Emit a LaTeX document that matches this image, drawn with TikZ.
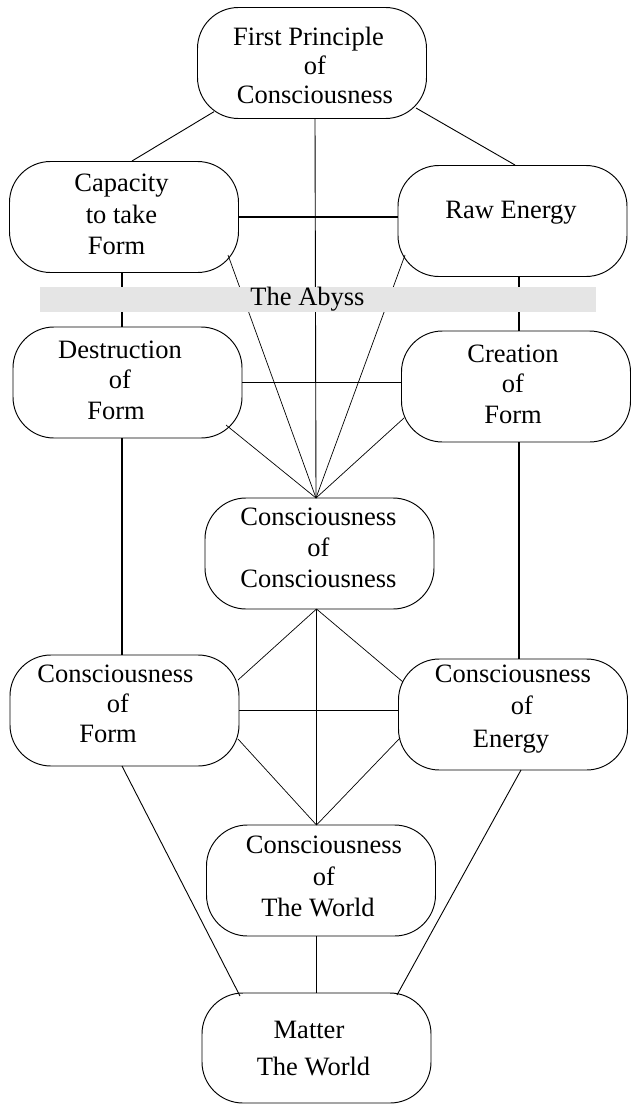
\documentclass[tikz,border=0pt]{standalone}
\usepackage{fontspec}
\setmainfont{Liberation Serif}
\usetikzlibrary{calc}
\begin{document}
\begin{tikzpicture}[x=1pt,y=-1pt,
  box/.style={draw, line width=0.95pt, rounded corners=41pt, minimum width=229pt, minimum height=111pt, inner sep=0pt, outer sep=0pt},
  txt/.style={align=center, inner sep=0pt},
  heavy/.style={line width=1.6pt},
  medium/.style={line width=0.9pt},
  light/.style={line width=0.7pt},
  abyssbar/.style={fill=black!10, draw=none, minimum width=556.5pt, minimum height=25pt, inner sep=0pt}]
\useasboundingbox (0,0) rectangle (632,1105);
% boxes
\node[box] (fp)  at (312,63) {};
\node[box] (cap) at (124,217) {};
\node[box] (raw) at (512.5,221) {};
\node[box] (des) at (127.5,382.5) {};
\node[box] (cre) at (516,386.5) {};
\node[box] (coc) at (319.5,553.5) {};
\node[box] (cof) at (124.5,710.5) {};
\node[box] (coe) at (513,714.5) {};
\node[box] (cow) at (321,880.5) {};
\node[box, minimum height=110pt] (mat) at (316.5,1048) {};
% connectors
\draw[medium] ($(fp.center)+(-98,48.7)$) -- ($(cap.center)+(8,-56)$);
\draw[medium] ($(fp.center)+(104,45)$) -- ($(raw.center)+(2.5,-56)$);
\draw[medium] ($(fp.south)+(3,0)$) -- ($(coc.north)+(-3.5,0)$);
\draw[heavy] (cap.east) -- (cap.east -| raw.west);
\draw[heavy] ($(cap.south)+(-2,0)$) -- ($(des.north)+(-5.5,0)$);
\draw[heavy] ($(raw.south)+(6.5,0)$) -- ($(cre.north)+(3,0)$);
\draw[light] ($(cap.center)+(104,38)$) -- ($(coc.north)+(-3.5,0)$);
\draw[light] ($(raw.center)+(-107.5,34)$) -- ($(coc.north)+(-3.5,0)$);
\draw[heavy] (des.east) -- (des.east -| cre.west);
\draw[light] ($(des.center)+(98.5,42.5)$) -- ($(coc.north)+(-3.5,0)$);
\draw[light] ($(cre.center)+(-112,31.5)$) -- ($(coc.north)+(-3.5,0)$);
\draw[heavy] ($(des.south)+(-5.5,0)$) -- ($(cof.north)+(-2.5,0)$);
\draw[heavy] ($(cre.south)+(3,0)$) -- ($(coe.north)+(6,0)$);
\draw[light] ($(coc.south)+(-3,0)$) -- ($(cof.center)+(113.5,-30.5)$);
\draw[light] ($(coc.south)+(-3,0)$) -- ($(coe.center)+(-110,-32.5)$);
\draw[medium] ($(coc.south)+(-3,0)$) -- ($(cow.north)+(-4.5,0)$);
\draw[heavy] (cof.east) -- (cof.east -| coe.west);
\draw[light] ($(cof.center)+(113.5,28.5)$) -- ($(cow.north)+(-4.5,0)$);
\draw[light] ($(coe.center)+(-113,23.5)$) -- ($(cow.north)+(-4.5,0)$);
\draw[medium] ($(cof.south)+(-2.5,0)$) -- ($(mat.center)+(-76.5,-52)$);
\draw[medium] ($(coe.south)+(8,0)$) -- ($(mat.center)+(80.5,-53)$);
\draw[medium] ($(cow.south)+(-4.5,0)$) -- ($(mat.north)+(0,0)$);
% the abyss
\node[abyssbar] (abyss) at (317.75,299.5) {};
\node[txt, font=\fontsize{26.5}{30}\selectfont] (abysst) at (307.5,299) {The Abyss};
% texts
\node[txt, font=\fontsize{26.5}{29}\selectfont] (fpt) at (315,65) {First Principle\hspace*{13pt}\\of\\Consciousness};
\node[txt, font=\fontsize{26.5}{31.5}\selectfont] (capt) at (121.5,214.5) {Capacity\\to take\\Form\hspace*{10pt}};
\node[txt, font=\fontsize{26.5}{30}\selectfont] (rawt) at (511,213) {Raw Energy};
\node[txt, font=\fontsize{26.5}{30.5}\selectfont] (dest) at (120,380) {Destruction\\of\\Form\hspace*{8pt}};
\node[txt, font=\fontsize{26.5}{30.5}\selectfont] (cret) at (513,384) {Creation\\of\\Form};
\node[txt, font=\fontsize{26.5}{31}\selectfont] (coct) at (318.5,548) {Consciousness\\of\\Consciousness};
\node[txt, font=\fontsize{26.5}{30}\selectfont] (coft) at (115.5,704) {Consciousness\\\hspace*{5pt}of\\Form\hspace*{15pt}};
\node[txt, font=\fontsize{26.5}{32.5}\selectfont] (coet) at (513,709) {Consciousness\\\hspace*{18pt}of\\Energy\hspace*{4pt}};
\node[txt, font=\fontsize{26.5}{31.5}\selectfont] (cowt) at (324,876.5) {Consciousness\\of\hspace*{8pt}\\The World\hspace*{12pt}};
\node[txt, font=\fontsize{26.5}{37}\selectfont] (matt) at (313.5,1048.5) {Matter\hspace*{9pt}\\The World};
\end{tikzpicture}
\end{document}
